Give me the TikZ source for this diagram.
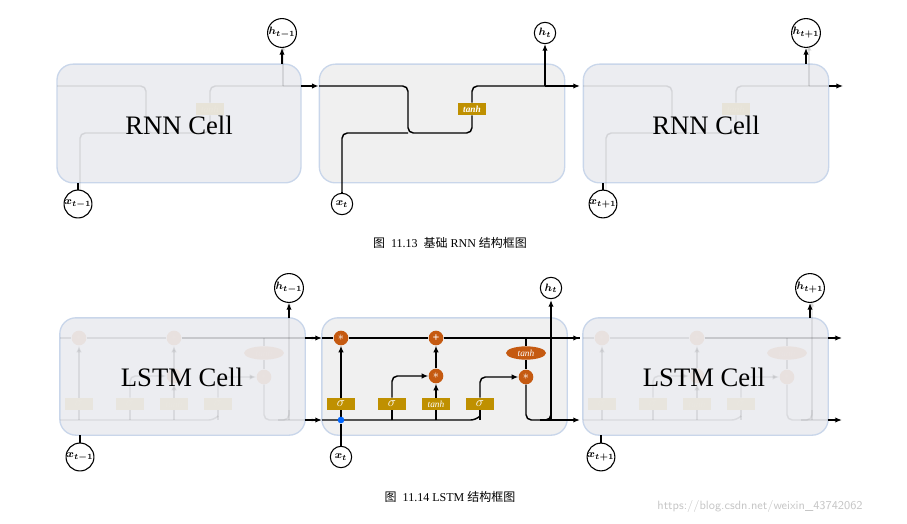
\documentclass[tikz,border=0pt]{standalone}
\usepackage{fontspec}
\usepackage{bm}
\setmainfont{Liberation Serif}
\newfontfamily\cjk{Noto Sans CJK SC}
\usetikzlibrary{shapes.geometric,arrows.meta}
\definecolor{orn}{HTML}{C55A11}
\definecolor{gld}{HTML}{BF9000}
\definecolor{cellfill}{HTML}{F0F0F0}
\definecolor{fadefill}{HTML}{ECEDF1}
\definecolor{cellline}{HTML}{C9D6EA}
\tikzset{
 cell/.style={draw=cellline,line width=1pt,fill=cellfill,rounded corners=12pt},
 fcell/.style={cell,fill=fadefill},
 ln/.style={line width=1.1pt,rounded corners=4pt},
 ar/.style={ln,-{Latex[length=5pt,width=4pt]}},
 io/.style={circle,draw,line width=0.8pt,fill=white,minimum size=16pt,inner sep=0pt,font=\footnotesize},
 gbox/.style={fill=gld,text=white,minimum width=21pt,minimum height=9pt,inner sep=0pt,font=\itshape\scriptsize},
 op/.style={circle,fill=orn,text=white,minimum size=11pt,inner sep=0pt,font=\bfseries\small},
 big/.style={font=\fontsize{20}{20}\selectfont},
}
\newcommand{\sg}{\normalsize$\sigma$}
\newcommand{\rnninner}{%
 \node[gbox] (tb) at (472,109) {\bfseries tanh};
 \draw[ln] (319,86) -- (408,86) -- (408,133) -- (472,133) -- (tb.south);
 \draw[ln] (342,192) -- (342,133) -- (408,133);
 \draw[ln] (tb.north) -- (472,86) -- (545,86);
 \draw[ar] (545,86) -- (580,86);
 \draw[ar] (545,86) -- (545,44);
}
\newcommand{\lstminner}{%
 \node[op] (m1) at (341,338) {$\ast$};
 \node[op] (pl) at (436,338) {+};
 \node[op] (m2) at (436,376) {$\ast$};
 \node[op] (m3) at (526,377) {$\ast$};
 \node[ellipse,fill=orn,text=white,minimum width=30pt,minimum height=10pt,inner sep=0pt,font=\itshape\scriptsize] (th) at (526,353) {tanh};
 \node[gbox] (s1) at (341,404) {\sg};
 \node[gbox] (s2) at (392,404) {\sg};
 \node[gbox] (t1) at (436,404) {tanh};
 \node[gbox] (s3) at (480,404) {\sg};
 \draw[ln] (322,338) -- (m1) -- (pl) -- (580,338);
 \draw[ar] (pl.east) -- (580,338);
 \draw[ln] (526,338) -- (th);
 \draw[ln] (th) -- (m3);
 \draw[ln] (322,420) -- (476,420) -- (480,416);
 \draw[ar] (s1) -- (m1);
 \draw[ln] (341,420) -- (s1);
 \draw[ln] (392,420) -- (s2);
 \draw[ar] (s2.north) -- (392,376) -- (m2);
 \draw[ln] (436,420) -- (t1);
 \draw[ar] (t1) -- (m2);
 \draw[ar] (m2) -- (pl);
 \draw[ln] (480,420) -- (s3);
 \draw[ar] (s3.north) -- (480,377) -- (m3);
 \draw[ln] (m3) -- (526,420) -- (551,420) -- (551,410);
 \draw[ar] (540,420) -- (580,420);
 \draw[ar] (551,420) -- (551,300);
}
\begin{document}
\begin{tikzpicture}[x=0.75pt,y=-0.75pt]
\useasboundingbox (0,0) rectangle (907,524);
% ---- RNN ----
\node[fcell,minimum width=183pt,minimum height=89pt] (rc1) at (179,123.5) {};
\node[cell,minimum width=184pt,minimum height=89pt] (rc2) at (442,123.5) {};
\node[fcell,minimum width=184pt,minimum height=89pt] (rc3) at (706,123.5) {};
\begin{scope}[opacity=0.1,shift={(-262,0)}]\rnninner\end{scope}
\begin{scope}[opacity=0.1,shift={(264,0)}]\rnninner\end{scope}
\begin{scope}[name prefix=r-]\rnninner\end{scope}
\node[big] (rl) at (179,125) {RNN Cell};
\node[big] (rr) at (706,125) {RNN Cell};
\node[io] (x1) at (342,204) {$\bm{x_t}$};
\node[io] (h1) at (545,33) {$\bm{h_t}$};
\node[io] (x0) at (78,204) {$\bm{x_{t-1}}$};
\node[io] (h0) at (282,33) {$\bm{h_{t-1}}$};
\node[io] (x2) at (603,204) {$\bm{x_{t+1}}$};
\node[io] (h2) at (806,33) {$\bm{h_{t+1}}$};
\draw[ln] (x1) -- (342,192);
\draw[ln] (x0) -- (78,183);
\draw[ln] (x2) -- (603,183);
\draw[ar] (282,64) -- (h0);
\draw[ar] (806,64) -- (h2);
\draw[ar] (301,86) -- (rc2.west |- 0,86);
\draw[ar] (829,86) -- (843,86);
\node[font=\small] (c1) at (450,243) {{\cjk 图}\ \ 11.13\ \ {\cjk 基础} RNN {\cjk 结构框图}};
% ---- LSTM ----
\node[fcell,minimum width=184pt,minimum height=88pt] (lc1) at (182.5,376.5) {};
\node[cell,minimum width=184pt,minimum height=88pt] (lc2) at (444.5,376.5) {};
\node[fcell,minimum width=184pt,minimum height=88pt] (lc3) at (705.5,376.5) {};
\begin{scope}[opacity=0.08,shift={(-262,0)}]\lstminner\end{scope}
\begin{scope}[opacity=0.08,shift={(261,0)}]\lstminner\end{scope}
\begin{scope}[name prefix=l-]\lstminner\end{scope}
\node[big] (ll) at (182,377) {LSTM Cell};
\node[big] (lr) at (704,377) {LSTM Cell};
\node[circle,fill=blue!60!cyan,inner sep=0pt,minimum size=5pt] (dot) at (341,420) {};
\node[io] (lx1) at (341,457) {$\bm{x_t}$};
\node[io] (lh1) at (551,288) {$\bm{h_t}$};
\node[io] (lx0) at (80,457) {$\bm{x_{t-1}}$};
\node[io] (lh0) at (289,288) {$\bm{h_{t-1}}$};
\node[io] (lx2) at (601,457) {$\bm{x_{t+1}}$};
\node[io] (lh2) at (810,288) {$\bm{h_{t+1}}$};
\draw[ln] (lx1) -- (dot);
\draw[ln] (lx0) -- (80,435);
\draw[ln] (lx2) -- (601,435);
\draw[ar] (289,318) -- (lh0);
\draw[ar] (810,318) -- (lh2);
\draw[ar] (305,338) -- (322,338);
\draw[ar] (305,420) -- (322,420);
\draw[ar] (828,338) -- (842,338);
\draw[ar] (828,420) -- (842,420);
\node[font=\small] (c2) at (450,497) {{\cjk 图}\ \ 11.14 LSTM {\cjk 结构框图}};
\node[text=gray!45,font=\sffamily\small] (wm) at (760,506) {https://blog.csdn.net/weixin\_43742062};
\end{tikzpicture}
\end{document}
